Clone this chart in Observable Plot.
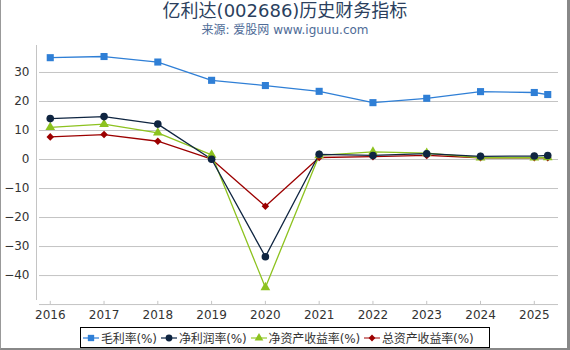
<!DOCTYPE html>
<html><head><meta charset="utf-8">
<script src="https://cdn.jsdelivr.net/npm/d3@7"></script>
<script src="https://cdn.jsdelivr.net/npm/@observablehq/plot@0.6"></script>
<style>
body{margin:0;background:#fff;font-family:"DejaVu Sans","Noto Sans CJK SC",sans-serif;}
#wrap{position:relative;width:570px;height:350px;overflow:hidden;background:#fff;}
#title{position:absolute;left:0;top:0;width:570px;text-align:center;font-size:18px;line-height:22px;color:#2b3f5e;}
#sub{position:absolute;left:0;top:22px;width:570px;text-align:center;font-size:12px;line-height:16px;color:#4e6b97;}
#chart{position:absolute;left:0;top:0;}
#legend{position:absolute;left:80px;top:327px;width:410px;height:21px;border:1px solid #000;box-sizing:border-box;display:flex;flex-wrap:nowrap;align-items:center;padding-left:2px;font-size:12px;letter-spacing:-0.15px;color:#333;background:#fff;white-space:nowrap;}
#legend .it{display:flex;align-items:center;margin-right:4px;flex-shrink:0;white-space:nowrap;}
#legend svg{margin-right:2px;flex-shrink:0;}
#frame{position:absolute;left:0;top:0;width:570px;height:350px;box-sizing:border-box;border-left:1px solid #999;border-right:3px solid #888;border-bottom:2px solid #888;pointer-events:none;}
</style></head>
<body>
<div id="wrap">
  <div id="chart"></div>
  <div id="title">亿利达(002686)历史财务指标</div>
  <div id="sub">来源: 爱股网 www.iguuu.com</div>
  <div id="legend"></div>
  <div id="frame"></div>
</div>
<script>
const years = [2016, 2017, 2018, 2019, 2020, 2021, 2022, 2023, 2024, 2025, 2025.25];
const grossMargin = [35.1, 35.5, 33.6, 27.3, 25.5, 23.5, 19.6, 21.1, 23.4, 23.1, 22.4];
const netMargin = [14.1, 14.8, 12.2, 0.1, -33.5, 1.8, 1.4, 2.0, 1.1, 1.2, 1.4];
const roe = [11.1, 12.2, 9.2, 1.6, -44.1, 1.4, 2.6, 2.2, 0.6, 0.6, 0.7];
const roa = [7.8, 8.6, 6.3, 0.1, -16.1, 0.7, 1.0, 1.4, 0.6, 0.6, 0.6];
const seriesNames = ["毛利率(%)", "净利润率(%)", "净资产收益率(%)", "总资产收益率(%)"];
const xTicks = [2016, 2017, 2018, 2019, 2020, 2021, 2022, 2023, 2024, 2025];
const yTicks = [-40, -30, -20, -10, 0, 10, 20, 30];

const colors = ["#2f7fd6", "#0f2541", "#8dc21f", "#9c0000"];
const symbols = ["square", "circle", "triangle", "diamond2"];
const radii = [4, 3.8, 3.6, 3.4];
const vals = [grossMargin, netMargin, roe, roa];
const series = vals.map((v, i) => years.map((x, j) => ({x, y: v[j]})));

const xDom = [2015.8, 2025.45];
const yDom = [-48.6, 39.3];
const order = [0, 3, 2, 1];

const marks = [
  Plot.ruleY(yTicks, {stroke: "#c4c4c4", strokeWidth: 1, x1: xDom[0], x2: xDom[1]}),
  Plot.ruleX([xDom[0]], {y1: yDom[0], y2: yDom[1], stroke: "#c4c4c4", dx: -3}),
  Plot.ruleY([-50], {x1: xDom[0], x2: xDom[1], stroke: "#c4c4c4"}),
  Plot.ruleX(xTicks, {y1: -48.9, y2: -50, stroke: "#c4c4c4"}),
  Plot.axisY({ticks: yTicks, tickSize: 0, tickPadding: 10, fontSize: 12, color: "#333", label: null}),
  Plot.axisX({ticks: xTicks, tickFormat: d => String(d), tickSize: 0, tickPadding: 9.5, fontSize: 12, color: "#333", label: null}),
];
for (const i of order) {
  marks.push(Plot.line(series[i], {x: "x", y: "y", stroke: colors[i], strokeWidth: 1.3}));
}
for (const i of order) {
  marks.push(Plot.dot(series[i], {x: "x", y: "y", fill: colors[i], stroke: "none", symbol: symbols[i], r: radii[i]}));
}

const chart = Plot.plot({
  width: 570, height: 322,
  marginLeft: 39, marginRight: 12, marginTop: 45, marginBottom: 22,
  style: {fontFamily: "DejaVu Sans, Noto Sans CJK SC, sans-serif", fontSize: "12px", background: "transparent"},
  x: {domain: xDom, axis: null},
  y: {domain: yDom, axis: null},
  marks
});
document.getElementById("chart").appendChild(chart);

const leg = document.getElementById("legend");
const symPath = {square: d3.symbolSquare, circle: d3.symbolCircle, triangle: d3.symbolTriangle, diamond2: d3.symbolDiamond2};
const lightC = ["#7fb0e8", "#6a7a8e", "#bfe080", "#d08080"];
seriesNames.forEach((name, i) => {
  const it = document.createElement("div"); it.className = "it";
  const p = d3.symbol(symPath[symbols[i]], Math.PI * radii[i] * radii[i] * 0.8)();
  it.innerHTML = `<svg width="16" height="10"><line x1="0" x2="16" y1="5" y2="5" stroke="${lightC[i]}" stroke-width="2"/><path d="${p}" transform="translate(8,5)" fill="${colors[i]}"/></svg><span>${name}</span>`;
  leg.appendChild(it);
});
</script>
</body></html>
